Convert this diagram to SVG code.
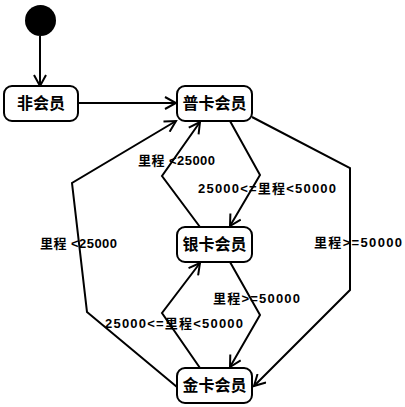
<svg xmlns="http://www.w3.org/2000/svg" width="405" height="407" viewBox="0 0 405 407">
<defs>
<marker id="arr" markerWidth="14" markerHeight="14" refX="12" refY="7" orient="auto" markerUnits="userSpaceOnUse">
<path d="M1,1 L12,7 L1,13" fill="none" stroke="#000" stroke-width="2"/>
</marker>
<style>
.box{fill:#fff;stroke:#000;stroke-width:2}
.nl{font-family:"Liberation Sans","Noto Sans CJK SC",sans-serif;font-size:16px;font-weight:bold;text-anchor:middle;dominant-baseline:central}
.el{font-family:"Liberation Sans","Noto Sans CJK SC",sans-serif;font-size:13px;font-weight:bold;dominant-baseline:central}
.c{fill:none;stroke:#000;stroke-width:2;marker-end:url(#arr)}
</style>
</defs>
<rect width="405" height="407" fill="#fff"/>
<g id="connectors">
<path class="c" d="M40,36 L40,86"/>
<path class="c" d="M78,103 L176,103"/>
<path class="c" d="M230,121 L260,175 L230,226"/>
<path class="c" d="M200,227 L162,176 L200,122"/>
<path class="c" d="M177,387 L87,312 L72,183 L176,121"/>
<path class="c" d="M252,117 L350,168 L350,290 L254,386"/>
<path class="c" d="M230,262 L260,315 L230,367"/>
<path class="c" d="M200,368 L162,313 L200,263"/>
</g>
<g id="labels">
<text class="el" x="138" y="160" textLength="77" lengthAdjust="spacing">里程 &lt;25000</text>
<text class="el" x="198" y="188" textLength="138" lengthAdjust="spacing">25000&lt;=里程&lt;50000</text>
<text class="el" x="40" y="243" textLength="77" lengthAdjust="spacing">里程 &lt;25000</text>
<text class="el" x="314" y="242" textLength="88" lengthAdjust="spacing">里程&gt;=50000</text>
<text class="el" x="213" y="298" textLength="87" lengthAdjust="spacing">里程&gt;=50000</text>
<text class="el" x="105" y="323" textLength="138" lengthAdjust="spacing">25000&lt;=里程&lt;50000</text>
</g>
<g id="start"><circle cx="40.5" cy="20.5" r="15.5" fill="#000"/></g>
<g id="n-fei"><rect class="box" x="4" y="86" width="74" height="35" rx="8"/><text class="nl" x="41" y="103.5">非会员</text></g>
<g id="n-pu"><rect class="box" x="177" y="86" width="75" height="35" rx="8"/><text class="nl" x="214.5" y="103.5">普卡会员</text></g>
<g id="n-yin"><rect class="box" x="177" y="227" width="75" height="35" rx="8"/><text class="nl" x="214.5" y="244.5">银卡会员</text></g>
<g id="n-jin"><rect class="box" x="177" y="368" width="75" height="35" rx="8"/><text class="nl" x="214.5" y="385.5">金卡会员</text></g>
</svg>
